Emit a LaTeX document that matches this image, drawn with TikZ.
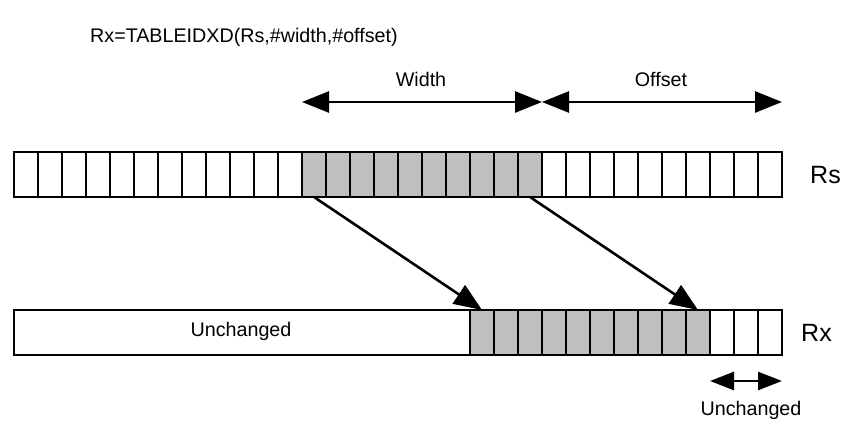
\documentclass[tikz,border=0pt]{standalone}
\usepackage{fontspec}
\setmainfont{Liberation Sans}
\usetikzlibrary{arrows.meta}
\begin{document}
\begin{tikzpicture}[x=1pt,y=-1pt,
  cell/.style={draw=black,line width=2.4pt,minimum width=24pt,minimum height=45pt,inner sep=0pt,outer sep=0pt,anchor=west},
  graycell/.style={cell,fill=gray!50},
  bigarrow/.style={line width=2.6pt,{Triangle[length=27pt,width=21pt]}-{Triangle[length=27pt,width=21pt]}},
  smallarrow/.style={line width=2.6pt,{Triangle[length=24pt,width=18pt]}-{Triangle[length=24pt,width=18pt]}},
  movearrow/.style={line width=2.6pt,-{Triangle[length=28pt,width=22pt]}},
  lbl/.style={font=\fontsize{19.7}{23}\selectfont,inner sep=0pt},
  reglbl/.style={font=\fontsize{25}{29}\selectfont,inner sep=0pt}]
\useasboundingbox (0,0) rectangle (850,425);
% Rs row
\foreach \i in {1,...,32}{
  \pgfmathtruncatemacro{\g}{(\i>12)&&(\i<23)}
  \ifnum\g=1
    \node[graycell] (rs\i) at ({14+(\i-1)*24},174.5) {};
  \else
    \node[cell] (rs\i) at ({14+(\i-1)*24},174.5) {};
  \fi
}
% Rx row
\node[cell,minimum width=456pt] (unch) at (14,332.5) {};
\node[lbl] (unchtxt) at (241,331) {Unchanged};
\foreach \i in {20,...,32}{
  \pgfmathtruncatemacro{\g}{(\i<30)}
  \ifnum\g=1
    \node[graycell] (rx\i) at ({14+(\i-1)*24},332.5) {};
  \else
    \node[cell] (rx\i) at ({14+(\i-1)*24},332.5) {};
  \fi
}
% labels
\node[lbl,anchor=west] (title) at (90,37) {Rx=TABLEIDXD(Rs,\#width,\#offset)};
\node[reglbl,anchor=west] (rslbl) at (810,175) {Rs};
\node[reglbl,anchor=west] (rxlbl) at (801,333) {Rx};
\node[lbl] (widthlbl) at (421,79) {Width};
\node[lbl] (offsetlbl) at (661,79) {Offset};
\node[lbl] (unch2) at (751,410) {Unchanged};
% dimension arrows
\coordinate (wl) at (302,102);
\coordinate (wm) at (542,102);
\coordinate (wr) at (782,102);
\draw[bigarrow] (wl) -- (wm);
\draw[bigarrow] (wm) -- (wr);
\coordinate (ul) at (710,381);
\coordinate (ur) at (782,381);
\draw[smallarrow] (ul) -- (ur);
% move arrows
\draw[movearrow] (rs13.south) -- (rx20.north);
\draw[movearrow] (rs22.south) -- (rx29.north);
\end{tikzpicture}
\end{document}
